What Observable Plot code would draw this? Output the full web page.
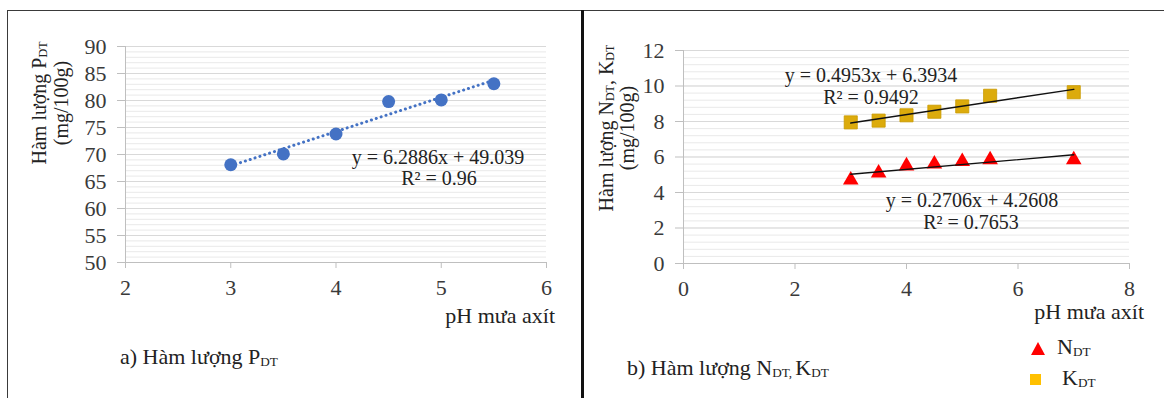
<!DOCTYPE html>
<html>
<head>
<meta charset="utf-8">
<script src="https://cdn.jsdelivr.net/npm/d3@7"></script>
<script src="https://cdn.jsdelivr.net/npm/@observablehq/plot@0.6"></script>
<style>
  html, body { margin: 0; padding: 0; background: #fff; }
  #root { position: relative; width: 1164px; height: 398px; overflow: hidden; background: #fff;
          font-family: "Liberation Serif", "Times New Roman", "DejaVu Serif", serif; color: #222; }
  #root svg, #root svg text { font-family: "Liberation Serif", "Times New Roman", "DejaVu Serif", serif !important; }
  .abs { position: absolute; white-space: nowrap; line-height: 1; }
  .panel { position: absolute; top: 0; }
  sub { font-size: 0.6em; vertical-align: -0.12em; line-height: 0; }
  .eq { font-size: 20px; transform: translate(-50%, -50%); text-align: center; color: #222; }
  .ylab { font-size: 20px; transform: translate(-50%, -50%) rotate(-90deg); text-align: center; color: #222; }
  .xlab { font-size: 22px; transform: translate(-100%, -50%); color: #222; }
  .cap { font-size: 22px; transform: translateY(-50%); color: #222; }
</style>
</head>
<body>
<div id="root">
  <div class="abs" style="left:7px;top:10px;width:1157px;height:0;border-top:1.5px solid #3a3a3a;"></div>
  <div class="abs" style="left:7px;top:10px;width:0;height:388px;border-left:1.5px solid #3a3a3a;"></div>
  <div id="pa" class="panel" style="left:0;"></div>
  <div id="pb" class="panel" style="left:582px;"></div>
  <div class="abs" style="left:581px;top:10px;width:0;height:388px;border-left:3px solid #111;"></div>
</div>
<script>
// ---- Panel a) data ----
const phA = [3, 3.5, 4, 4.5, 5, 5.5];
const pDT = [68.1, 70.1, 73.8, 79.8, 80.1, 83.1];
const xTicksA = [2, 3, 4, 5, 6];
const yTicksA = [50, 55, 60, 65, 70, 75, 80, 85, 90];
const eqA = ["y = 6.2886x + 49.039", "R² = 0.96"];

// ---- Panel b) data ----
const phB = [3, 3.5, 4, 4.5, 5, 5.5, 7];
const nDT = [4.7, 5.1, 5.5, 5.6, 5.75, 5.85, 5.85];
const kDT = [7.95, 8.05, 8.35, 8.55, 8.85, 9.45, 9.65];
const xTicksB = [0, 2, 4, 6, 8];
const yTicksB = [0, 2, 4, 6, 8, 10, 12];
const eqK = ["y = 0.4953x + 6.3934", "R² = 0.9492"];
const eqN = ["y = 0.2706x + 4.2608", "R² = 0.7653"];

const FONT = '"Liberation Serif", "Times New Roman", "DejaVu Serif", serif';
const GRID = "#d9d9d9", MINOR = "#e9e9e9", AXIS = "#bfbfbf", TXT = "#3a3a3a";

const dataA = phA.map((x, i) => ({x, y: pDT[i]}));
const dataN = phB.map((x, i) => ({x, y: nDT[i]}));
const dataK = phB.map((x, i) => ({x, y: kDT[i]}));

const chartA = Plot.plot({
  width: 582, height: 300,
  marginLeft: 125, marginRight: 36, marginTop: 46, marginBottom: 38,
  style: {fontFamily: FONT, fontSize: "22px", background: "transparent", overflow: "visible"},
  x: {domain: [2, 6]},
  y: {domain: [50, 90]},
  marks: [
    Plot.ruleY(d3.range(50, 90.5, 1), {stroke: MINOR}),
    Plot.ruleY(yTicksA, {stroke: GRID}),
    Plot.ruleY([50], {stroke: AXIS}),
    Plot.ruleX([2], {stroke: AXIS}),
    Plot.axisX(xTicksA, {tickSize: 6, tickPadding: 11, stroke: AXIS, fill: TXT, label: null, tickFormat: d => d}),
    Plot.axisY(yTicksA, {tickSize: 8, tickPadding: 11, stroke: AXIS, fill: TXT, label: null, tickFormat: d => d}),
    Plot.linearRegressionY(dataA, {x: "x", y: "y", stroke: "#4472C4", strokeWidth: 3, strokeDasharray: "0.1 5", strokeLinecap: "round", ci: 0}),
    Plot.dot(dataA, {x: "x", y: "y", r: 6.5, fill: "#4472C4", stroke: "none"})
  ]
});
document.getElementById("pa").appendChild(chartA);

const chartB = Plot.plot({
  width: 582, height: 300,
  marginLeft: 101, marginRight: 35, marginTop: 50, marginBottom: 37,
  style: {fontFamily: FONT, fontSize: "22px", background: "transparent", overflow: "visible"},
  x: {domain: [0, 8]},
  y: {domain: [0, 12]},
  marks: [
    Plot.ruleY(d3.range(0, 12.01, 0.4), {stroke: MINOR}),
    Plot.ruleY(yTicksB, {stroke: GRID}),
    Plot.ruleY([0], {stroke: AXIS}),
    Plot.ruleX([0], {stroke: AXIS}),
    Plot.axisX(xTicksB, {tickSize: 6, tickPadding: 11, stroke: AXIS, fill: TXT, label: null, tickFormat: d => d}),
    Plot.axisY(yTicksB, {tickSize: 8, tickPadding: 11, stroke: AXIS, fill: TXT, label: null, tickFormat: d => d}),
    Plot.dot(dataK, {x: "x", y: "y", symbol: "square", r: 7.4, fill: "#dcab0c", stroke: "#c99a00", strokeWidth: 0.8}),
    Plot.dot(dataN, {x: "x", y: "y", symbol: "triangle", r: 5.8, fill: "#ff0000", stroke: "none"}),
    Plot.linearRegressionY(dataK, {x: "x", y: "y", stroke: "#111", strokeWidth: 1.4, ci: 0}),
    Plot.linearRegressionY(dataN, {x: "x", y: "y", stroke: "#111", strokeWidth: 1.4, ci: 0})
  ]
});
document.getElementById("pb").appendChild(chartB);

// ---- text overlays ----
const root = document.getElementById("root");
function add(cls, html, style) {
  const d = document.createElement("div");
  d.className = "abs " + cls;
  d.innerHTML = html;
  Object.assign(d.style, style);
  root.appendChild(d);
  return d;
}
// panel a
add("ylab", "Hàm lượng P<sub>DT</sub>", {left: "39px", top: "103px"});
add("ylab", "(mg/100g)", {left: "61px", top: "103px"});
add("eq", eqA[0], {left: "438px", top: "157px"});
add("eq", eqA[1], {left: "439px", top: "178px"});
add("xlab", "pH mưa axít", {left: "555px", top: "316px"});
add("cap", "a) Hàm lượng P<sub>DT</sub>", {left: "120px", top: "357px"});
// panel b
add("ylab", "Hàm lượng N<sub>DT</sub>, K<sub>DT</sub>", {left: "606px", top: "128px"});
add("ylab", "(mg/100g)", {left: "627px", top: "128px"});
add("eq", eqK[0], {left: "871px", top: "75px"});
add("eq", eqK[1], {left: "871px", top: "97px"});
add("eq", eqN[0], {left: "972px", top: "200px"});
add("eq", eqN[1], {left: "971px", top: "222px"});
add("xlab", "pH mưa axít", {left: "1144px", top: "312px"});
add("cap", "b) Hàm lượng N<sub>DT, </sub>K<sub>DT</sub>", {left: "627px", top: "368px"});
// legend
add("cap", '<svg width="14" height="13" style="vertical-align:middle"><polygon points="7,0 14,13 0,13" fill="#ff0000"/></svg>', {left: "1031px", top: "347px"});
add("cap", "N<sub>DT</sub>", {left: "1057px", top: "347px"});
add("cap", '<svg width="11" height="11" style="vertical-align:middle"><rect x="0" y="0" width="11" height="11" fill="#ffc000"/></svg>', {left: "1030px", top: "378px"});
add("cap", "K<sub>DT</sub>", {left: "1062px", top: "378px"});
</script>
</body>
</html>
